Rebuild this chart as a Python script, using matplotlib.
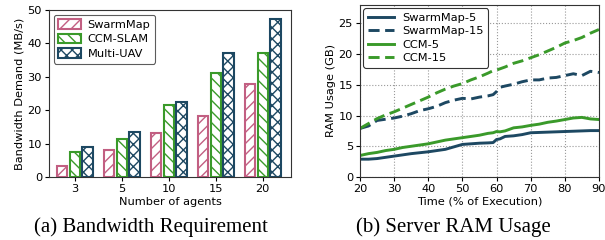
import numpy as np
import matplotlib.pyplot as plt
import matplotlib as mpl

mpl.rcParams['hatch.linewidth'] = 1.0

# --- (a) bandwidth data ---
agents = ['3', '5', '10', '15', '20']
swarmmap_bw = [3.3, 8.2, 13.3, 18.3, 27.7]
ccm_bw = [7.5, 11.3, 21.5, 31.2, 37.2]
multiuav_bw = [9.1, 13.4, 22.4, 37.2, 47.2]

# --- (b) RAM data ---
t = [20, 22.5, 25, 27.5, 30, 32.5, 35, 37.5, 40, 42.5, 45, 47.5, 50, 52.5, 55, 57.5,
     59, 60, 61, 62.5, 65, 67.5, 70, 72.5, 75, 77.5, 80, 82.5, 85, 87.5, 90]
swarm5 = [2.9, 2.9, 3.0, 3.2, 3.4, 3.6, 3.8, 3.95, 4.1, 4.3, 4.5, 4.9, 5.3, 5.4, 5.5, 5.55,
          5.6, 6.1, 6.2, 6.6, 6.7, 6.9, 7.2, 7.25, 7.3, 7.35, 7.4, 7.45, 7.5, 7.55, 7.55]
swarm15 = [7.9, 8.3, 9.2, 9.4, 9.6, 9.9, 10.3, 10.8, 11.1, 11.5, 12.1, 12.5, 12.8, 12.7, 13.0, 13.2,
           13.4, 13.9, 14.6, 14.8, 15.1, 15.5, 15.8, 15.8, 16.1, 16.2, 16.5, 16.8, 16.5, 17.2, 17.0]
ccm5 = [3.5, 3.8, 4.0, 4.3, 4.5, 4.8, 5.0, 5.2, 5.4, 5.7, 6.0, 6.2, 6.4, 6.6, 6.8, 7.1,
        7.2, 7.4, 7.35, 7.5, 8.0, 8.15, 8.4, 8.6, 8.9, 9.1, 9.35, 9.6, 9.7, 9.45, 9.35]
ccm15 = [7.9, 8.7, 9.5, 10.1, 10.6, 11.2, 11.8, 12.4, 13.0, 13.7, 14.3, 14.8, 15.2, 15.8, 16.3, 16.9,
         17.3, 17.4, 17.6, 17.9, 18.5, 18.9, 19.4, 19.9, 20.5, 21.1, 21.8, 22.2, 22.7, 23.4, 24.0]

pink = '#c25f82'
green = '#3a9a2a'
navy = '#1d4862'

fs = 8.2
fig = plt.figure(figsize=(6.05, 2.4), dpi=100)

# ---------- (a) ----------
ax1 = fig.add_axes([0.081, 0.2625, 0.40, 0.696])
x = np.arange(len(agents))
w = 0.22
off = 0.27
ax1.bar(x - off, swarmmap_bw, w, facecolor='white', edgecolor=pink, hatch='///',
        linewidth=1.5, label='SwarmMap')
ax1.bar(x, ccm_bw, w, facecolor='white', edgecolor=green, hatch='\\\\\\',
        linewidth=1.5, label='CCM-SLAM')
ax1.bar(x + off, multiuav_bw, w, facecolor='white', edgecolor=navy, hatch='xxx',
        linewidth=1.5, label='Multi-UAV')
ax1.set_xticks(x)
ax1.set_xticklabels(agents)
ax1.set_xlim(-0.55, 4.6)
ax1.set_ylim(0, 50)
ax1.set_yticks(range(0, 51, 10))
ax1.set_xlabel('Number of agents', fontsize=fs, labelpad=2)
ax1.set_ylabel('Bandwidth Demand (MB/s)', fontsize=fs, labelpad=2)
ax1.tick_params(labelsize=fs, length=3, pad=2)
leg1 = ax1.legend(loc='upper left', fontsize=fs, frameon=True, edgecolor='#333333',
                  handlelength=2.0, handleheight=0.9, borderaxespad=0.4,
                  labelspacing=0.35, handletextpad=0.6)
leg1.get_frame().set_linewidth(0.8)

# ---------- (b) ----------
ax2 = fig.add_axes([0.595, 0.2625, 0.395, 0.717])
lw = 2.1
ax2.plot(t, swarm5, color=navy, lw=lw, label='SwarmMap-5')
ax2.plot(t, swarm15, color=navy, lw=lw, ls=(0, (3.8, 1.9)), label='SwarmMap-15')
ax2.plot(t, ccm5, color=green, lw=lw, label='CCM-5')
ax2.plot(t, ccm15, color=green, lw=lw, ls=(0, (3.8, 1.9)), label='CCM-15')
ax2.set_xlim(20, 90)
ax2.set_ylim(0, 28)
ax2.set_xticks(range(20, 91, 10))
ax2.set_yticks(range(0, 26, 5))
ax2.grid(True, ls=':', color='#999999', lw=0.8)
ax2.set_xlabel('Time (% of Execution)', fontsize=fs, labelpad=2)
ax2.set_ylabel('RAM Usage (GB)', fontsize=fs, labelpad=2)
ax2.tick_params(labelsize=fs, length=3, pad=2)
leg2 = ax2.legend(loc='upper left', fontsize=fs, frameon=True, edgecolor='#333333',
                  framealpha=1, handlelength=2.3, borderaxespad=0.3,
                  labelspacing=0.3, handletextpad=0.7)
leg2.get_frame().set_linewidth(0.8)

for ax in (ax1, ax2):
    for s in ax.spines.values():
        s.set_color('#333333')

fig.text(0.25, 0.035, '(a) Bandwidth Requirement', ha='center', fontsize=15,
         family='Liberation Serif')
fig.text(0.75, 0.035, '(b) Server RAM Usage', ha='center', fontsize=15,
         family='Liberation Serif')

fig.savefig('out.png', dpi=100)
